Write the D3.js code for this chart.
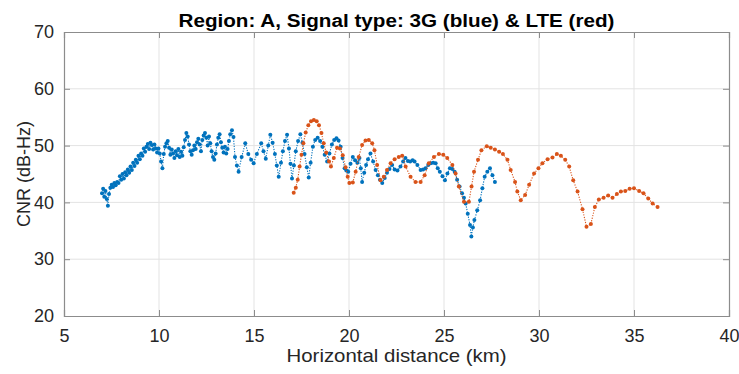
<!DOCTYPE html>
<html>
<head>
<meta charset="utf-8">
<script src="https://cdn.jsdelivr.net/npm/d3@7"></script>
<style>
  html, body { margin: 0; padding: 0; background: #fff; }
  svg { display: block; font-family: "Liberation Sans", Arial, Helvetica, sans-serif; }
</style>
</head>
<body>
<svg id="chart" width="739" height="374"></svg>
<script>
// 3G samples: horizontal distance (km) and CNR (dB-Hz)
const km3G = [7.00,7.06,7.12,7.18,7.25,7.31,7.37,7.44,7.51,7.58,7.65,7.72,7.80,7.87,7.94,8.01,8.08,8.15,8.22,8.29,8.36,8.43,8.50,8.57,8.64,8.71,8.78,8.85,8.92,8.99,9.06,9.13,9.20,9.27,9.34,9.41,9.48,9.55,9.62,9.69,9.76,9.83,9.90,9.97,10.04,10.11,10.18,10.25,10.32,10.39,10.46,10.53,10.60,10.67,10.74,10.81,10.88,10.95,11.02,11.09,11.16,11.23,11.30,11.37,11.44,11.51,11.58,11.65,11.72,11.79,11.86,11.93,12.00,12.07,12.14,12.21,12.28,12.35,12.42,12.49,12.56,12.63,12.70,12.77,12.84,12.91,12.98,13.05,13.12,13.19,13.26,13.33,13.40,13.47,13.54,13.61,13.68,13.75,13.84,13.92,14.00,14.10,14.19,14.35,14.54,14.70,14.85,14.98,15.15,15.38,15.50,15.62,15.75,15.86,15.98,16.10,16.20,16.30,16.42,16.52,16.63,16.74,16.84,16.92,17.00,17.10,17.20,17.32,17.44,17.55,17.66,17.78,17.88,17.98,18.10,18.22,18.35,18.48,18.60,18.72,18.85,18.97,19.10,19.22,19.34,19.45,19.56,19.66,19.77,19.86,19.96,20.08,20.20,20.32,20.44,20.55,20.62,20.69,20.80,20.90,21.00,21.13,21.27,21.40,21.52,21.63,21.75,21.88,22.00,22.13,22.27,22.40,22.55,22.71,22.85,22.97,23.10,23.22,23.35,23.45,23.60,23.77,23.90,24.03,24.17,24.30,24.43,24.56,24.67,24.78,24.92,25.05,25.18,25.31,25.44,25.56,25.69,25.82,25.95,26.05,26.14,26.25,26.37,26.44,26.52,26.60,26.75,26.90,27.02,27.14,27.28,27.42,27.55,27.68];
const cnr3G = [41.6,42.4,41.0,42.0,40.6,39.4,41.5,42.6,43.1,42.7,43.4,43.0,43.6,43.4,44.6,44.0,45.0,44.2,45.3,44.8,45.8,45.2,46.3,45.7,47.0,46.4,47.5,47.0,48.2,47.6,48.6,48.2,49.5,48.9,49.8,50.3,49.4,50.5,50.1,49.3,50.2,49.5,48.8,49.5,48.6,47.2,46.0,48.5,49.8,50.4,50.8,49.6,48.4,49.3,48.6,47.8,49.0,48.3,49.4,48.0,48.9,48.2,49.7,51.0,52.2,51.6,50.2,49.0,48.4,49.2,50.0,49.4,50.6,51.2,50.2,49.0,51.0,51.8,52.2,51.4,50.0,51.6,50.4,49.0,48.0,47.5,48.6,50.2,51.4,52.0,50.6,49.6,48.8,49.8,48.6,49.4,50.8,52.0,52.7,51.5,48.0,46.5,45.4,48.0,50.4,48.5,47.5,46.9,48.5,50.4,49.0,47.7,50.0,51.9,50.5,48.5,46.5,44.5,47.0,49.0,50.8,51.9,49.5,46.8,44.2,46.5,49.0,50.8,52.0,50.5,48.5,46.2,44.4,47.0,49.8,51.0,51.4,50.8,49.8,48.4,47.2,48.6,50.2,51.0,51.3,50.9,49.8,47.8,46.0,45.6,45.4,46.8,48.0,47.4,47.0,47.8,46.0,43.6,45.2,46.6,47.6,48.6,47.2,45.7,44.8,44.0,43.4,44.3,45.2,45.9,46.6,45.8,45.6,46.3,47.2,47.8,47.3,47.2,47.4,47.2,46.6,45.7,45.8,46.0,46.6,46.9,47.0,46.9,46.0,45.4,44.6,43.9,45.1,46.0,45.9,45.4,44.0,42.8,41.6,40.8,39.8,38.0,36.0,34.0,35.6,36.9,38.6,40.4,42.5,44.5,45.4,46.0,44.8,43.6];

// LTE samples: horizontal distance (km) and CNR (dB-Hz)
const kmLTE = [17.09,17.20,17.30,17.40,17.50,17.60,17.72,17.86,18.00,18.15,18.30,18.42,18.55,18.67,18.80,18.95,19.05,19.20,19.37,19.52,19.67,19.82,19.93,20.02,20.20,20.35,20.51,20.69,20.87,21.04,21.22,21.34,21.48,21.66,21.83,22.00,22.19,22.40,22.62,22.80,22.98,23.24,23.50,23.77,23.98,24.20,24.47,24.73,24.96,25.17,25.44,25.61,25.78,26.05,26.31,26.45,26.58,26.79,26.97,27.25,27.46,27.68,27.90,28.10,28.34,28.51,28.74,28.86,29.04,29.27,29.48,29.74,29.97,30.18,30.45,30.71,30.94,31.15,31.38,31.59,31.80,32.03,32.29,32.50,32.73,32.94,33.15,33.40,33.64,33.87,34.10,34.31,34.54,34.77,35.00,35.27,35.50,35.75,35.98,36.24];
const cnrLTE = [41.7,42.6,44.0,46.3,48.4,50.4,52.3,53.6,54.3,54.5,54.3,53.6,52.2,50.4,48.8,47.2,46.3,47.8,49.6,49.5,48.3,46.2,44.5,43.4,43.5,45.4,48.0,50.1,50.9,51.0,50.4,49.2,46.6,43.9,44.5,45.7,46.9,47.6,48.0,48.2,46.3,44.5,43.6,43.6,44.8,46.9,48.0,48.5,48.4,47.8,46.6,45.1,42.8,40.1,40.1,42.8,45.4,47.5,49.2,49.9,49.6,49.3,48.9,48.5,47.5,45.7,43.6,41.9,40.4,41.3,43.1,45.1,46.0,46.9,47.6,47.9,48.5,48.2,47.5,46.3,43.9,41.9,38.8,35.7,36.2,39.2,40.5,40.8,41.2,40.8,41.5,41.9,42.0,42.4,42.5,42.0,41.6,40.7,39.8,39.2];

// Axis ticks
const xTicks = [5, 10, 15, 20, 25, 30, 35, 40];
const yTicks = [20, 30, 40, 50, 60, 70];

const svg = d3.select("#chart");
const margin = { left: 64, right: 10, top: 32, bottom: 58 };
const W = 739, H = 374;
const x = d3.scaleLinear().domain([5, 40]).range([margin.left, W - margin.right]);
const y = d3.scaleLinear().domain([20, 70]).range([H - margin.bottom, margin.top]);

const axisCol = "#262626";
const boxCol = "#8c8c8c";

// grid
const grid = svg.append("g");
grid.selectAll("line.gx").data(xTicks.slice(1, -1)).join("line")
  .attr("x1", d => x(d)).attr("x2", d => x(d))
  .attr("y1", y(20)).attr("y2", y(70))
  .attr("stroke", "#e3e3e3").attr("stroke-width", 1);
grid.selectAll("line.gy").data(yTicks.slice(1, -1)).join("line")
  .attr("y1", d => y(d)).attr("y2", d => y(d))
  .attr("x1", x(5)).attr("x2", x(40))
  .attr("stroke", "#e3e3e3").attr("stroke-width", 1);

// axes with inward ticks on all four sides
const tl = 6;
const xb = svg.append("g").attr("transform", `translate(0,${y(20)})`)
  .call(d3.axisBottom(x).tickValues(xTicks).tickSize(-tl).tickPadding(tl + 7).tickFormat(d3.format("d")));
const xt = svg.append("g").attr("transform", `translate(0,${y(70)})`)
  .call(d3.axisTop(x).tickValues(xTicks).tickSize(-tl).tickFormat(""));
const yl = svg.append("g").attr("transform", `translate(${x(5)},0)`)
  .call(d3.axisLeft(y).tickValues(yTicks).tickSize(-tl).tickPadding(tl + 4).tickFormat(d3.format("d")));
const yr = svg.append("g").attr("transform", `translate(${x(40)},0)`)
  .call(d3.axisRight(y).tickValues(yTicks).tickSize(-tl).tickFormat(""));
[xb, xt, yl, yr].forEach(g => {
  g.select(".domain").attr("stroke", boxCol).attr("stroke-width", 1.2);
  g.selectAll(".tick line").attr("stroke", boxCol).attr("stroke-width", 1);
  g.selectAll(".tick text").attr("fill", axisCol).style("font-size", "18px")
    .style("font-family", "'Liberation Sans', Arial, sans-serif");
});

// series
const series = [
  { km: km3G, cnr: cnr3G, color: "#0072BD" },
  { km: kmLTE, cnr: cnrLTE, color: "#D95319" }
];
const line = d3.line().x(d => x(d[0])).y(d => y(d[1]));
series.forEach(s => {
  const pts = s.km.map((k, i) => [k, s.cnr[i]]);
  const g = svg.append("g");
  g.append("path").datum(pts).attr("d", line)
    .attr("fill", "none").attr("stroke", s.color)
    .attr("stroke-width", 1.1).attr("stroke-dasharray", "1.2,1.4");
  g.selectAll("circle").data(pts).join("circle")
    .attr("cx", d => x(d[0])).attr("cy", d => y(d[1])).attr("r", 2)
    .attr("fill", s.color);
});

// title and labels
const cx = (x(5) + x(40)) / 2;
svg.append("text").attr("x", cx).attr("y", 27)
  .attr("text-anchor", "middle").attr("fill", "#000")
  .attr("textLength", 436).attr("lengthAdjust", "spacingAndGlyphs")
  .style("font-size", "18px").style("font-weight", "bold")
  .text("Region: A, Signal type: 3G (blue) & LTE (red)");
svg.append("text").attr("x", cx).attr("y", 362)
  .attr("text-anchor", "middle").attr("fill", axisCol)
  .attr("textLength", 220).attr("lengthAdjust", "spacingAndGlyphs")
  .style("font-size", "19px")
  .text("Horizontal distance (km)");
svg.append("text").attr("transform", `translate(30,${(y(20) + y(70)) / 2}) rotate(-90)`)
  .attr("text-anchor", "middle").attr("fill", axisCol)
  .attr("textLength", 106).attr("lengthAdjust", "spacingAndGlyphs")
  .style("font-size", "19px")
  .text("CNR (dB-Hz)");
</script>
</body>
</html>
